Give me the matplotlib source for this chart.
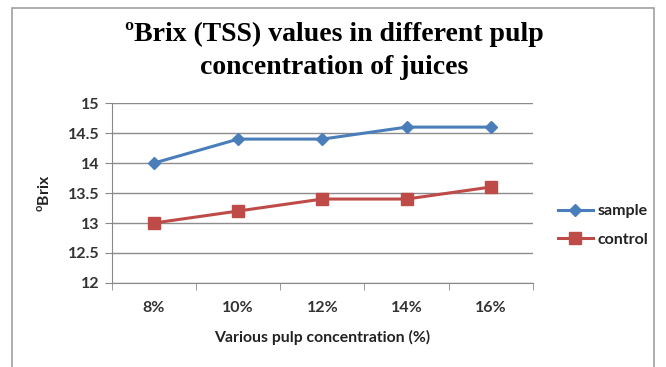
import matplotlib.pyplot as plt
from matplotlib.patches import Rectangle

# pulp concentration levels and measured Brix
pulp = ['8%', '10%', '12%', '14%', '16%']
sample = [14.0, 14.4, 14.4, 14.6, 14.6]
control = [13.0, 13.2, 13.4, 13.4, 13.6]
yticks = [12, 12.5, 13, 13.5, 14, 14.5, 15]
ytick_labels = ['12', '12.5', '13', '13.5', '14', '14.5', '15']

fig = plt.figure(figsize=(6.66, 3.67), dpi=100)
fig.patches.append(Rectangle((12 / 666, -0.05), 642 / 666, 1 - 8 / 367 + 0.05,
                             transform=fig.transFigure, fill=False,
                             edgecolor='#a0a0a0', linewidth=1.2))

ax = fig.add_axes([0.168, 0.229, 0.632, 0.490])
x = list(range(len(pulp)))
ax.plot(x, sample, color='#4a7ebb', linewidth=2.2, marker='D', markersize=6.5,
        label='sample')
ax.plot(x, control, color='#be4b48', linewidth=2.2, marker='s', markersize=8,
        label='control')

ax.set_xlim(-0.5, len(pulp) - 0.5)
ax.set_ylim(12, 15)
ax.set_yticks(yticks)
ax.set_yticklabels(ytick_labels)
ax.set_xticks(x)
ax.set_xticklabels(pulp)
ax.set_xticks([i - 0.5 for i in range(len(pulp) + 1)], minor=True)
ax.tick_params(axis='x', which='major', length=0, pad=13)
ax.tick_params(axis='x', which='minor', length=5, color='#888888')
ax.tick_params(axis='y', length=5, color='#888888', pad=4)
for lab in ax.get_xticklabels() + ax.get_yticklabels():
    lab.set_fontfamily('Lato')
    lab.set_fontsize(11.5)
    lab.set_fontweight('bold')
    lab.set_color('#333333')

ax.grid(axis='y', color='#8c8c8c', linewidth=1)
ax.set_axisbelow(True)
for s in ['top', 'right']:
    ax.spines[s].set_visible(False)
for s in ['left', 'bottom']:
    ax.spines[s].set_color('#888888')

ax.set_xlabel('Various pulp concentration (%)', fontfamily='Lato',
              fontweight='bold', fontsize=11.3, labelpad=11, color='#222222')
ax.set_ylabel(r'$^\mathregular{o}$Brix', fontfamily='Lato', fontweight='bold',
              fontsize=11.3, labelpad=11, color='#222222')

fig.text(0.502, 0.862, 'ºBrix (TSS) values in different pulp\nconcentration of juices',
         ha='center', va='center', fontfamily='Liberation Serif',
         fontweight='bold', fontsize=20, linespacing=1.4)

leg = ax.legend(loc='center left', bbox_to_anchor=(1.025, 0.32), frameon=False,
                handlelength=2.2, handletextpad=0.3, labelspacing=0.9,
                prop={'family': 'Lato', 'weight': 'bold', 'size': 11.5})
for t in leg.get_texts():
    t.set_color('#222222')

fig.savefig('out.png', dpi=100)
